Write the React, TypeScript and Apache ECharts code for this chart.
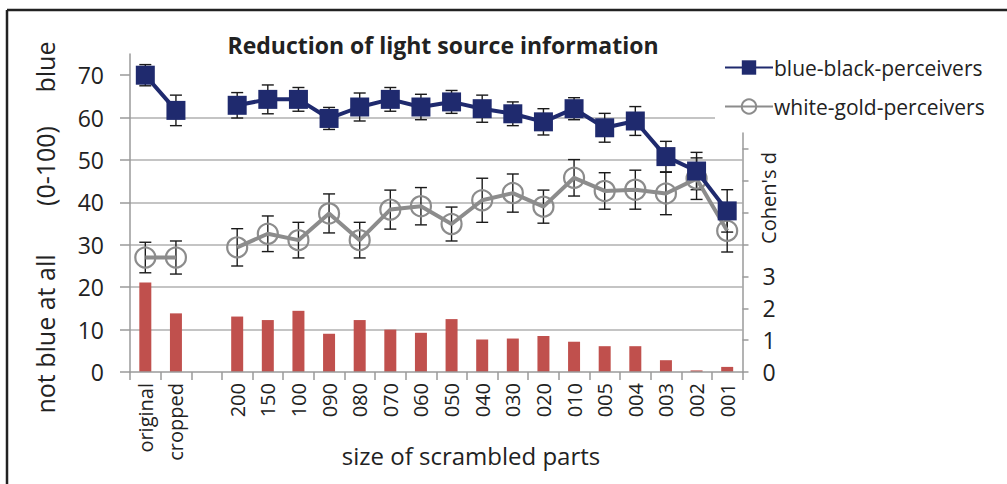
import React, { useEffect, useRef } from "react";
import * as echarts from "echarts";

const categories = ["original", "cropped", "", "200", "150", "100", "090", "080", "070", "060", "050", "040", "030", "020", "010", "005", "004", "003", "002", "001"];
const blueBlack = [70.0, 61.7, null, 62.9, 64.3, 64.3, 59.8, 62.5, 64.3, 62.5, 63.7, 62.1, 60.9, 59.0, 62.1, 57.6, 59.2, 50.8, 47.4, 38.0];
const blueBlackErr = [2.5, 3.6, null, 3.0, 3.4, 2.8, 2.6, 3.3, 2.8, 3.0, 2.7, 3.2, 2.8, 3.1, 2.6, 3.4, 3.4, 3.6, 4.4, 5.0];
const whiteGold = [27.0, 27.0, null, 29.4, 32.6, 31.1, 37.4, 31.1, 38.3, 39.1, 34.9, 40.5, 42.2, 39.0, 45.8, 42.7, 43.0, 42.1, 45.6, 33.3];
const whiteGoldErr = [3.6, 3.9, null, 4.4, 4.2, 4.2, 4.6, 4.2, 4.6, 4.4, 4.0, 5.2, 4.5, 3.9, 4.3, 4.3, 4.6, 5.0, 4.9, 5.0];
const cohensD = [2.81, 1.84, null, 1.74, 1.63, 1.92, 1.2, 1.63, 1.33, 1.23, 1.66, 1.02, 1.05, 1.13, 0.95, 0.81, 0.81, 0.37, 0.05, 0.16];
const leftTicks = [0, 10, 20, 30, 40, 50, 60, 70];
const rightTicks = [0, 1, 2, 3, 4, 5, 6, 7];
const rightLabels = [0, 1, 2, 3];

const FONT = "Open Sans";
const TEXT = "#222";
const AXIS = "#9a9a9a";

function errData(vals: (number | null)[], errs: (number | null)[]) {
  const out: number[][] = [];
  vals.forEach((v, i) => {
    const e = errs[i];
    if (v != null && e != null) out.push([i, v - e, v + e]);
  });
  return out;
}

function errRender(params: any, api: any) {
  const x = api.value(0);
  const lo = api.value(1);
  const hi = api.value(2);
  const p1 = api.coord([x, hi]);
  const p2 = api.coord([x, lo]);
  const w = 6;
  const style = { stroke: "#1a1a1a", lineWidth: 1.4 };
  return {
    type: "group",
    children: [
      { type: "line", shape: { x1: p1[0], y1: p1[1], x2: p2[0], y2: p2[1] }, style },
      { type: "line", shape: { x1: p1[0] - w, y1: p1[1], x2: p1[0] + w, y2: p1[1] }, style },
      { type: "line", shape: { x1: p2[0] - w, y1: p2[1], x2: p2[0] + w, y2: p2[1] }, style },
    ],
  };
}

export default function App() {
  const ref = useRef<HTMLDivElement>(null);
  useEffect(() => {
    if (!ref.current) return;
    const chart = echarts.init(ref.current, null, { renderer: "svg" });
    const option: any = {
      animation: false,
      backgroundColor: "#fff",
      textStyle: { fontFamily: FONT },
      title: {
        text: "Reduction of light source information",
        left: 438,
        top: 28,
        textAlign: "center",
        textStyle: { fontFamily: FONT, fontSize: 23, fontWeight: "bold", color: TEXT },
      },
      legend: {
        orient: "vertical",
        left: 715,
        top: 53,
        padding: [4, 10, 4, 9],
        itemGap: 18,
        itemWidth: 48,
        itemHeight: 18,
        backgroundColor: "#fff",
        data: ["blue-black-perceivers", "white-gold-perceivers"],
        textStyle: { fontFamily: FONT, fontSize: 21, color: TEXT, padding: [0, 0, 0, -4] },
      },
      grid: [
        { left: 130, right: 264.5, top: 54, bottom: 112, containLabel: false, outerBoundsMode: "none" },
        { left: 130, right: 264.5, top: 133, bottom: 112, containLabel: false, outerBoundsMode: "none" },
      ],
      xAxis: [
        {
          type: "category",
          gridIndex: 0,
          data: categories,
          boundaryGap: true,
          axisLine: { lineStyle: { color: AXIS, width: 1.5 } },
          axisTick: { show: true, length: 8, lineStyle: { color: AXIS, width: 1.5 } },
          axisLabel: { rotate: 90, interval: 0, fontSize: 20, color: TEXT, margin: 11, fontFamily: FONT, overflow: "none", width: 200 },
          z: 3,
        },
        {
          type: "category",
          gridIndex: 1,
          data: categories,
          boundaryGap: true,
          show: false,
        },
      ],
      yAxis: [
        {
          type: "value",
          gridIndex: 0,
          min: 0,
          max: 75,
          interval: 10,
          axisLine: { show: true, lineStyle: { color: AXIS, width: 1.5 } },
          axisTick: { show: true, length: 10, customValues: leftTicks, lineStyle: { color: AXIS, width: 1.5 } },
          axisLabel: { customValues: leftTicks, fontSize: 23, color: TEXT, margin: 26, fontFamily: FONT },
          splitLine: { show: true, showMinLine: false, showMaxLine: false, lineStyle: { color: "#b0b0b0", width: 1.5 } },
        },
        {
          type: "value",
          gridIndex: 1,
          position: "right",
          min: 0,
          max: 7.5,
          interval: 1,
          axisLine: { show: true, lineStyle: { color: AXIS, width: 1.5 } },
          axisTick: { show: true, length: 6, customValues: rightTicks, lineStyle: { color: AXIS, width: 1.5 } },
          axisLabel: { customValues: rightLabels, fontSize: 23, color: TEXT, margin: 20, fontFamily: FONT },
          splitLine: { show: false },
        },
      ],
      series: [
        {
          name: "Cohen's d",
          type: "bar",
          xAxisIndex: 1,
          yAxisIndex: 1,
          data: cohensD,
          barWidth: 12,
          itemStyle: { color: "#c0504d" },
          z: 1,
        },
        {
          name: "blue-black-err",
          type: "custom",
          xAxisIndex: 0,
          yAxisIndex: 0,
          data: errData(blueBlack, blueBlackErr),
          encode: { x: 0, y: [1, 2] },
          renderItem: errRender,
          z: 2,
        },
        {
          name: "white-gold-err",
          type: "custom",
          xAxisIndex: 0,
          yAxisIndex: 0,
          data: errData(whiteGold, whiteGoldErr),
          encode: { x: 0, y: [1, 2] },
          renderItem: errRender,
          z: 2,
        },
        {
          name: "white-gold-perceivers",
          type: "line",
          xAxisIndex: 0,
          yAxisIndex: 0,
          data: whiteGold,
          connectNulls: false,
          symbol: "circle",
          symbolSize: 20,
          lineStyle: { color: "#8c8c8c", width: 4 },
          itemStyle: { color: "rgba(255,255,255,0)", borderColor: "#8c8c8c", borderWidth: 2.2 },
          z: 3,
        },
        {
          name: "blue-black-perceivers",
          type: "line",
          xAxisIndex: 0,
          yAxisIndex: 0,
          data: blueBlack,
          connectNulls: false,
          symbol: "rect",
          symbolSize: 19,
          lineStyle: { color: "#1f2a6e", width: 4 },
          itemStyle: { color: "#1f2a6e" },
          z: 4,
        },
      ],
      graphic: [
        { type: "line", shape: { x1: 7, y1: 10, x2: 1007, y2: 10 }, style: { stroke: "#222", lineWidth: 2.5 } },
        { type: "line", shape: { x1: 7, y1: 10, x2: 7, y2: 484 }, style: { stroke: "#222", lineWidth: 2.5 } },
        {
          type: "text",
          x: 471,
          y: 455,
          style: { text: "size of scrambled parts", font: `24px "${FONT}"`, fill: TEXT, align: "center", verticalAlign: "middle" },
        },
        {
          type: "text",
          x: 45,
          y: 67,
          rotation: Math.PI / 2,
          style: { text: "blue", font: `25px "${FONT}"`, fill: TEXT, align: "center", verticalAlign: "middle" },
        },
        {
          type: "text",
          x: 45,
          y: 166,
          rotation: Math.PI / 2,
          style: { text: "(0-100)", font: `25px "${FONT}"`, fill: TEXT, align: "center", verticalAlign: "middle" },
        },
        {
          type: "text",
          x: 45,
          y: 334,
          rotation: Math.PI / 2,
          style: { text: "not blue at all", font: `25px "${FONT}"`, fill: TEXT, align: "center", verticalAlign: "middle" },
        },
        {
          type: "text",
          x: 768,
          y: 198,
          rotation: Math.PI / 2,
          style: { text: "Cohen's d", font: `20px "${FONT}"`, fill: TEXT, align: "center", verticalAlign: "middle" },
        },
      ],
    };
    chart.setOption(option);
    return () => chart.dispose();
  }, []);
  return (
    <div
      ref={ref}
      style={{ position: "absolute", left: 0, top: 0, width: 1007, height: 484 }}
    />
  );
}
